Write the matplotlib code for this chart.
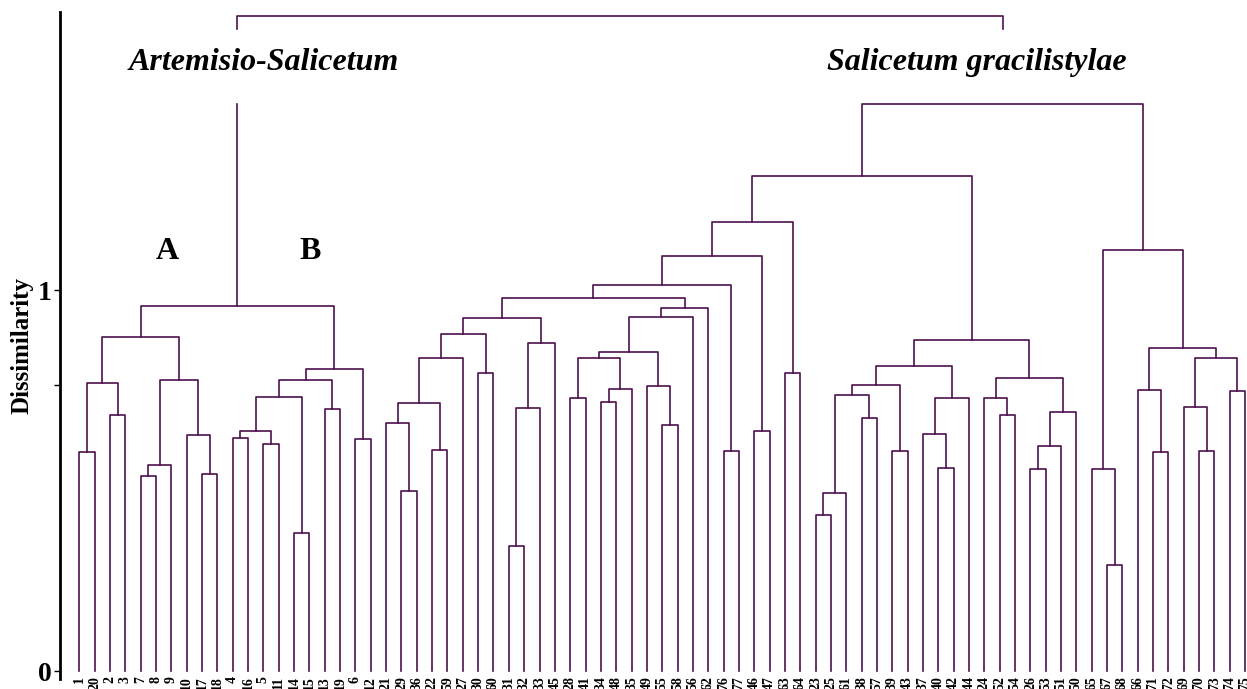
import matplotlib.pyplot as plt

# plot numbers, left to right along the bottom
leaves = [1, 20, 2, 3, 7, 8, 9, 10, 17, 18, 4, 16, 5, 11, 14, 15, 13, 19, 6, 12,
          21, 29, 36, 22, 59, 27, 30, 60, 31, 32, 33, 45, 28, 41, 34, 48, 35, 49, 55, 58,
          56, 62, 76, 77, 46, 47, 63, 64, 23, 25, 61, 38, 57, 39, 43, 37, 40, 42, 44, 24,
          52, 54, 26, 53, 51, 50, 65, 67, 68, 66, 71, 72, 69, 70, 73, 74, 75]

# merges: (child a, child b, dissimilarity); ints are plots, 'mK' is merge number K
merges = [
    (1, 20, 0.575), (2, 3, 0.672), ('m0', 'm1', 0.757),
    (7, 8, 0.512), ('m3', 9, 0.541), (17, 18, 0.518), (10, 'm5', 0.619),
    ('m4', 'm6', 0.764), ('m2', 'm7', 0.877),                       # m8  = A
    (4, 16, 0.612), (5, 11, 0.596), ('m9', 'm10', 0.631), (14, 15, 0.363),
    ('m11', 'm12', 0.718), (13, 19, 0.687), ('m13', 'm14', 0.763),
    (6, 12, 0.608), ('m15', 'm16', 0.794),                          # m17 = B
    ('m8', 'm17', 0.958),                                           # m18 = Artemisio-Salicetum
    (29, 36, 0.473), (21, 'm19', 0.650), (22, 59, 0.580), ('m20', 'm21', 0.703),
    ('m22', 27, 0.822), (30, 60, 0.782), ('m23', 'm24', 0.885),
    (31, 32, 0.329), ('m26', 33, 0.690), ('m27', 45, 0.860), ('m25', 'm28', 0.927),
    (28, 41, 0.716), (34, 48, 0.707), ('m31', 35, 0.740), ('m30', 'm32', 0.822),
    (55, 58, 0.646), (49, 'm34', 0.747), ('m33', 'm35', 0.838), ('m36', 56, 0.929),
    ('m37', 62, 0.952), ('m29', 'm38', 0.980), (76, 77, 0.577), ('m39', 'm40', 1.014),
    (46, 47, 0.631), ('m41', 'm42', 1.089), (63, 64, 0.782), ('m43', 'm44', 1.178),
    (23, 25, 0.410), ('m46', 61, 0.468), (38, 57, 0.665), ('m47', 'm48', 0.725),
    (39, 43, 0.578), ('m49', 'm50', 0.751), (40, 42, 0.533), (37, 'm52', 0.621),
    ('m53', 44, 0.716), ('m51', 'm54', 0.801), (52, 54, 0.672), (24, 'm56', 0.716),
    (26, 53, 0.530), ('m58', 51, 0.591), ('m59', 50, 0.681), ('m57', 'm60', 0.770),
    ('m55', 'm61', 0.870), ('m45', 'm62', 1.300),
    (67, 68, 0.278), (65, 'm64', 0.530), (71, 72, 0.574), (66, 'm66', 0.737),
    (70, 73, 0.578), (69, 'm68', 0.693), (74, 75, 0.734), ('m69', 'm70', 0.822),
    ('m67', 'm71', 0.848), ('m65', 'm72', 1.105),
    ('m63', 'm73', 1.488),                                          # m74 = Salicetum gracilistylae
    ('m18', 'm74', 1.719),                                          # root
]

# the root legs are cut where the association names sit
label_gap = (1.488, 1.685)

line_col = '#4d104d'
serif = 'Liberation Serif'

fig = plt.figure(figsize=(12.47, 6.89), dpi=100)
ax = fig.add_axes([60 / 1247, 10 / 689, 1187 / 1247, 667 / 689])

pos = {lab: (i, 0.0) for i, lab in enumerate(leaves)}
for k, (a, b, h) in enumerate(merges):
    xa, ha = pos[a]
    xb, hb = pos[b]
    if k == len(merges) - 1:
        lo, hi = label_gap
        ax.plot([xa, xa], [ha, lo], color=line_col, lw=1.2)
        ax.plot([xb, xb], [hb, lo], color=line_col, lw=1.2)
        ax.plot([xa, xa, xb, xb], [hi, h, h, hi], color=line_col, lw=1.2)
    else:
        ax.plot([xa, xa, xb, xb], [ha, h, h, hb], color=line_col, lw=1.2)
    pos[f'm{k}'] = ((xa + xb) / 2, h)

# leaf labels
for i, lab in enumerate(leaves):
    ax.text(i, -0.013, str(lab), rotation=90, ha='center', va='top',
            fontsize=10, fontweight='bold', family=serif)

# group names
ax.text(12.0, 1.598, 'Artemisio-Salicetum', ha='center', va='center',
        fontsize=23, fontweight='bold', fontstyle='italic', family=serif)
ax.text(58.5, 1.598, 'Salicetum gracilistylae', ha='center', va='center',
        fontsize=23, fontweight='bold', fontstyle='italic', family=serif)
ax.text(5.75, 1.102, 'A', ha='center', va='center', fontsize=23,
        fontweight='bold', family=serif)
ax.text(15.07, 1.102, 'B', ha='center', va='center', fontsize=23,
        fontweight='bold', family=serif)

ax.set_xlim(-1.258, 76.12)
ax.set_ylim(-0.021, 1.73)
ax.set_xticks([])
ax.set_yticks([0, 1])
ax.set_yticklabels(['0', '1'], fontsize=20, fontweight='bold', family=serif)
ax.set_yticks([0.75], minor=True)
ax.tick_params(axis='y', which='both', direction='out', length=4, width=1, pad=2)
ax.set_ylabel('Dissimilarity', fontsize=18, fontweight='bold', family=serif)
ax.yaxis.set_label_coords((34 - 60) / 1187, 0.5)

for side in ['top', 'right', 'bottom']:
    ax.spines[side].set_visible(False)
ax.spines['left'].set_linewidth(2)

fig.savefig('out.png', dpi=100)
